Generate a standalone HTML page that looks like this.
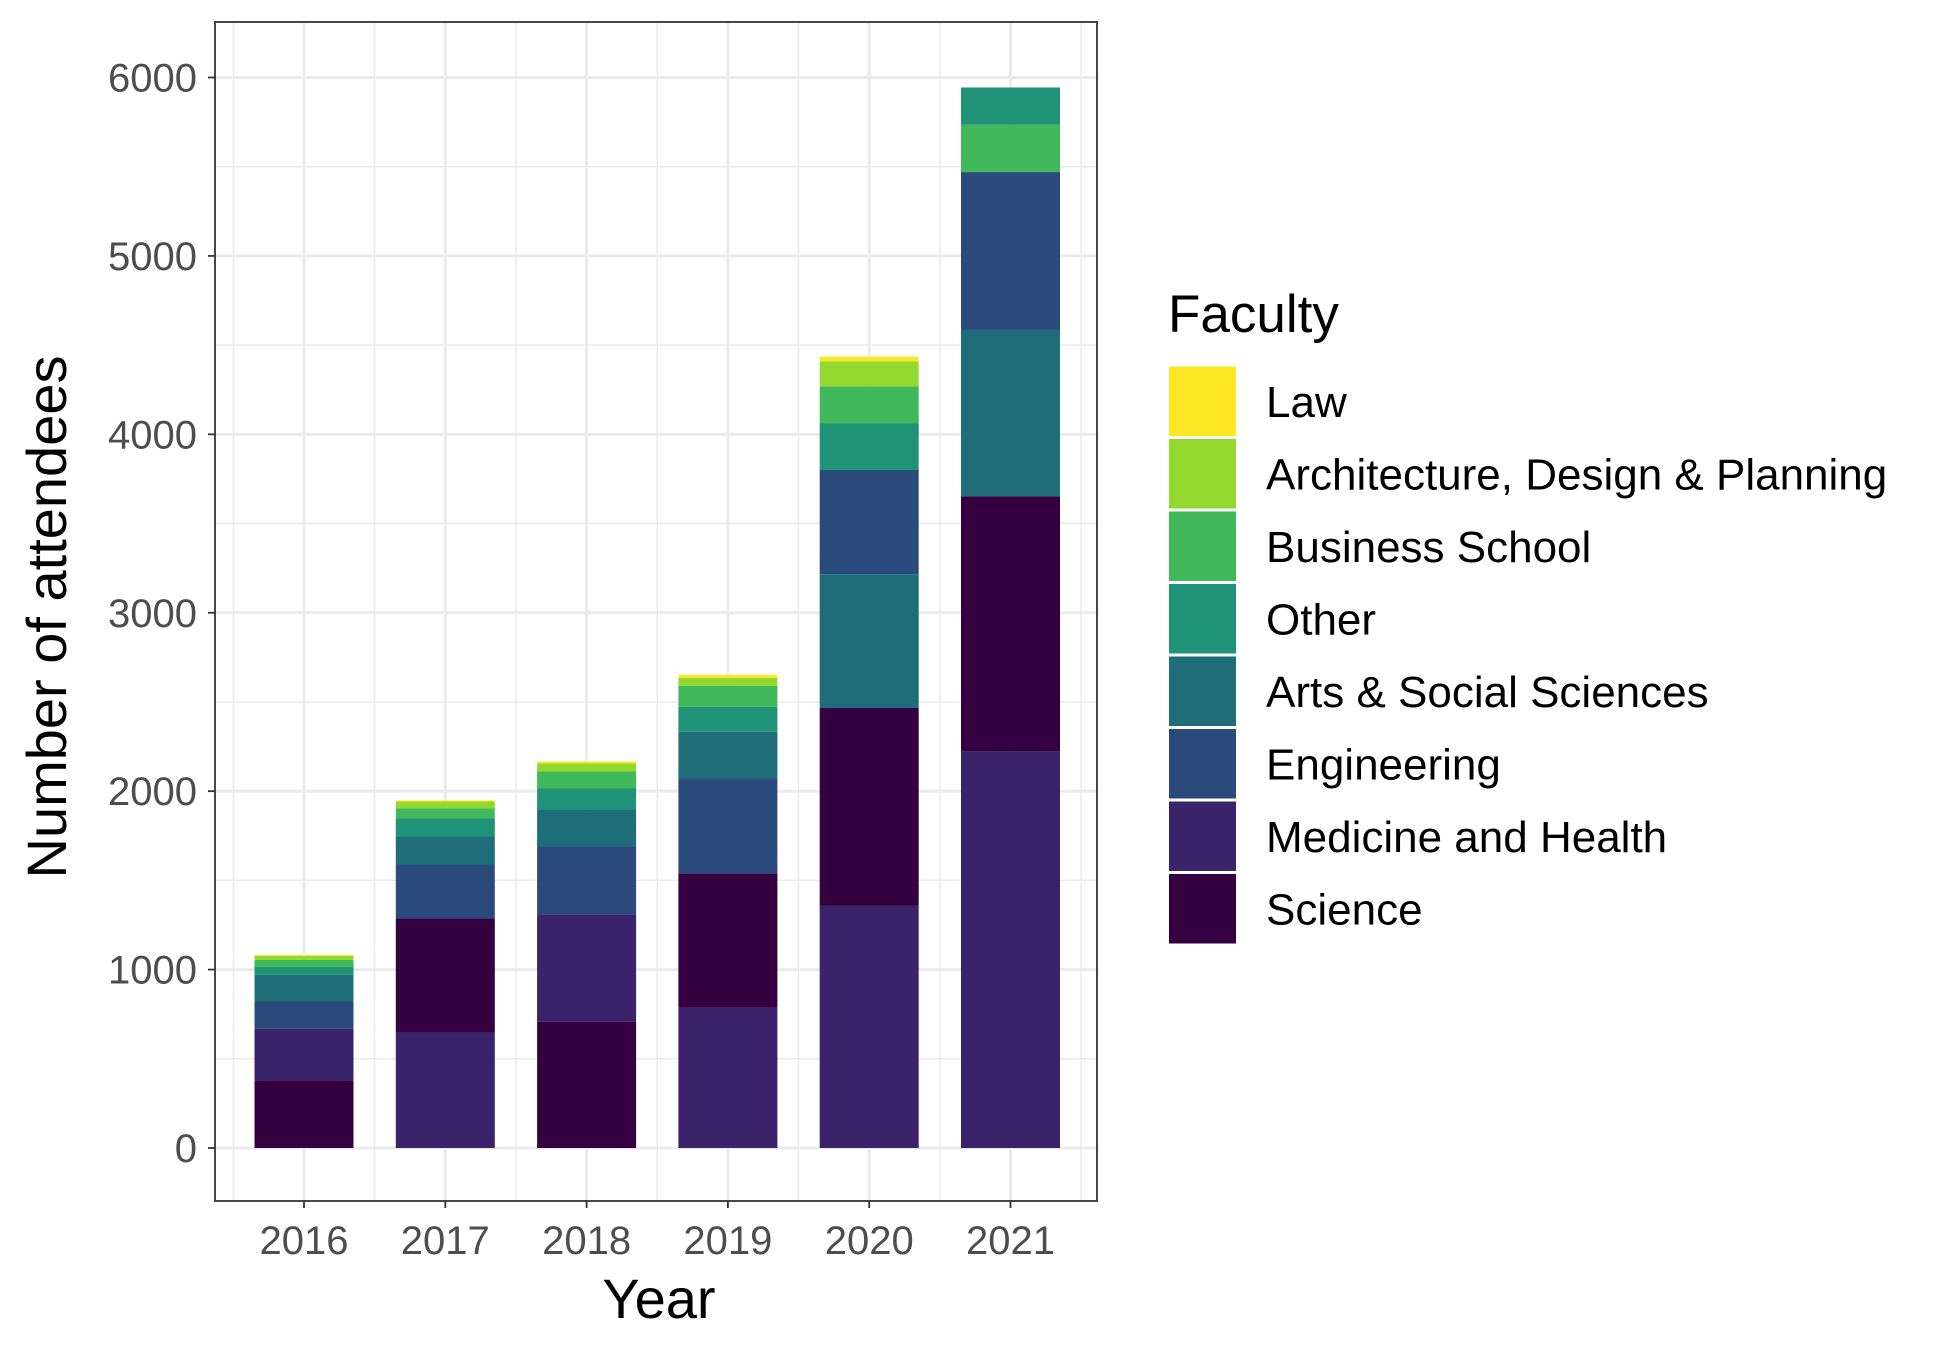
<!DOCTYPE html>
<html><head><meta charset="utf-8"><style>
body{margin:0;background:#fff}
svg{display:block;font-family:"Liberation Sans",sans-serif}
</style></head><body>
<svg id="chart" width="1950" height="1350" viewBox="0 0 1950 1350">
<rect width="1950" height="1350" fill="#fff"/>
<g id="grid"></g><g id="bars"></g><g id="axes"></g><g id="legend"></g>
</svg>
<script>
const years = ["2016","2017","2018","2019","2020","2021"];
const faculties = ["Law","Architecture, Design & Planning","Business School","Other","Arts & Social Sciences","Engineering","Medicine and Health","Science"];
const colors = ["#fde725","#92d82f","#41b95a","#1f9278","#206d7a","#2b4a7c","#3a236b","#350040"];
const law = [6,6,11,17,26,0];
const arch = [22,39,45,44,140,0];
const business = [39,56,95,118,206,265];
const other = [45,101,118,140,263,209];
const arts = [149,157,207,262,750,933];
const engineering = [152,303,382,533,584,885];
const medicine = [289,647,600,787,1359,2223];
const science = [380,639,708,751,1107,1429];
const series = [law,arch,business,other,arts,engineering,medicine,science];
const yTicks = [0,1000,2000,3000,4000,5000,6000];

const NS="http://www.w3.org/2000/svg";
const PL=215,PR=1097,PT=22,PB=1201;
const step=141.3, x0=304, barW=99;
const xS=i=>x0+i*step;
const yS=v=>1148-v*(1070.5/6000);
function mk(tag,attrs,parent){const e=document.createElementNS(NS,tag);for(const k in attrs)e.setAttribute(k,attrs[k]);parent.appendChild(e);return e;}
const grid=document.getElementById('grid'),bars=document.getElementById('bars'),axes=document.getElementById('axes'),legend=document.getElementById('legend');

for(let i=0;i<yTicks.length-1;i++){const v=(yTicks[i]+yTicks[i+1])/2;
 const l=mk('line',{x1:PL,x2:PR,y1:yS(v),y2:yS(v),stroke:'#ebebeb','stroke-width':1.5},grid);
 
 }
for(let i=0;i<years.length+1;i++){const x=xS(i)-step/2;
 const l=mk('line',{x1:x,x2:x,y1:PT,y2:PB,stroke:'#ebebeb','stroke-width':1.5},grid);
 
 }
yTicks.forEach(v=>{const l=mk('line',{x1:PL,x2:PR,y1:yS(v),y2:yS(v),stroke:'#ebebeb','stroke-width':3},grid);
 
 });
years.forEach((y,i)=>{const l=mk('line',{x1:xS(i),x2:xS(i),y1:PT,y2:PB,stroke:'#ebebeb','stroke-width':3},grid);
 
 });

years.forEach((yr,i)=>{
 const segs=series.map((s,f)=>({f,v:s[i]})).filter(d=>d.v>0).sort((a,b)=>b.v-a.v);
 let cum=0;
 segs.forEach(d=>{
  const y1=yS(cum+d.v),y0=yS(cum);cum+=d.v;
  const r=mk('rect',{x:xS(i)-barW/2,y:y1,width:barW,height:y0-y1,fill:colors[d.f]},bars);
  
  
 });
});

const pb=mk('rect',{x:PL,y:PT,width:PR-PL,height:PB-PT,fill:'none',stroke:'#333','stroke-width':1.8},axes);


yTicks.forEach(v=>{
 const t=mk('line',{x1:PL-7,x2:PL,y1:yS(v),y2:yS(v),stroke:'#333','stroke-width':1.8},axes);
 
 
 const tx=mk('text',{x:PL-18,y:yS(v)+14,'text-anchor':'end','font-size':40,fill:'#4d4d4d'},axes);
 tx.textContent=v;
 
 
});
years.forEach((yr,i)=>{
 const t=mk('line',{x1:xS(i),x2:xS(i),y1:PB,y2:PB+7,stroke:'#333','stroke-width':1.8},axes);
 
 
 const tx=mk('text',{x:xS(i),y:1254,'text-anchor':'middle','font-size':40,fill:'#4d4d4d'},axes);
 tx.textContent=yr;
 
 
});
const xt=mk('text',{x:659,y:1318,'text-anchor':'middle','font-size':56,fill:'#000'},axes);
xt.textContent='Year';


const yt=mk('text',{x:0,y:0,'text-anchor':'middle','font-size':56,fill:'#000',transform:'translate(66,617) rotate(-90)'},axes);
yt.textContent='Number of attendees';



const lt=mk('text',{x:1168,y:332,'font-size':53,fill:'#000'},legend);
lt.textContent='Faculty';


faculties.forEach((f,k)=>{
 const top=365+k*72.5;
 const g=mk('g',{},legend);
 
 
 const r=mk('rect',{x:1175-6,y:top+1.5,width:67,height:69.5,fill:colors[k]},g);
 
 
 const t=mk('text',{x:1266,y:top+52,'font-size':44,fill:'#000'},g);
 t.textContent=f;
 
 
});
</script>
</body></html>
